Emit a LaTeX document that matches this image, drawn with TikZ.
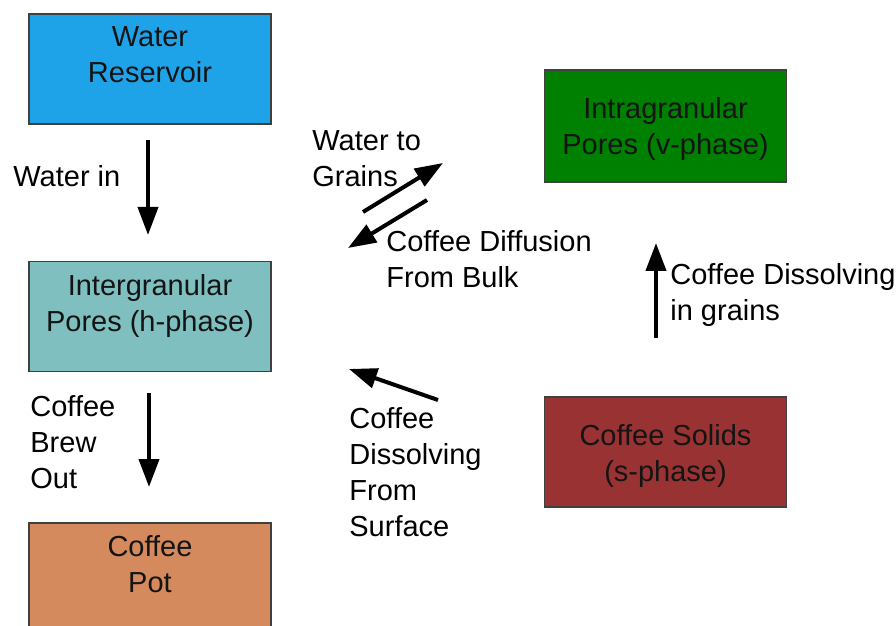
\documentclass[tikz,border=0pt]{standalone}
\usepackage{fontspec}
\setmainfont{Liberation Sans}
\usetikzlibrary{arrows.meta}
\definecolor{reservoirblue}{RGB}{31,163,232}
\definecolor{interteal}{RGB}{128,191,191}
\definecolor{potbrown}{RGB}{212,138,92}
\definecolor{poregreen}{RGB}{0,128,0}
\definecolor{solidred}{RGB}{153,51,51}
\begin{document}
\begin{tikzpicture}[x=0.5pt,y=-0.5pt,
    phase/.style ={rectangle, draw=black!75, line width=0.6pt, inner sep=0pt, minimum width=121pt, minimum height=55pt},
    phasetop/.style ={anchor=north, inner sep=0pt, align=center, text=black!92, font=\fontsize{14.5}{18}\selectfont},
    tag/.style ={anchor=north west, inner sep=0pt, align=left, font=\fontsize{14.5}{18}\selectfont},
    flow/.style ={line width=2pt, -{Triangle[length=14pt,width=10pt]}}]
   \useasboundingbox (0,0) rectangle (896,626);
   % left column
   \node[phase, fill=reservoirblue] (res)  at (150,69)  {};
   \node[phasetop] (restext) at ([yshift=-6.5pt]res.north) {Water\\Reservoir};
   \node[phase, fill=interteal] (inter)  at (150,316.5)  {};
   \node[phasetop] (intertext) at ([yshift=-6.5pt]inter.north) {Intergranular\\Pores (h-phase)};
   \node[phase, fill=potbrown, minimum height=62pt] (pot)  at (150,585)  {};
   \node[phasetop] (pottext) at ([yshift=-6.5pt]pot.north) {Coffee\\Pot};
   % right column
   \node[phase, fill=poregreen, minimum height=56pt] (intra)  at (665.5,126)  {};
   \node[phasetop] (intratext) at ([yshift=-14pt]intra.north) {Intragranular\\Pores (v-phase)};
   \node[phase, fill=solidred] (solid)  at (665.5,452)  {};
   \node[phasetop] (solidtext) at ([yshift=-14pt]solid.north) {Coffee Solids\\(s-phase)};
   % arrow ends
   \coordinate (in0) at (148,140);   \coordinate (in1) at (148,235);
   \coordinate (out0) at (149,393);  \coordinate (out1) at (149,487);
   \coordinate (wg0) at (363,212);   \coordinate (wg1) at (443,163);
   \coordinate (cd0) at (427,200);   \coordinate (cd1) at (348,248);
   \coordinate (cs0) at (438,400);   \coordinate (cs1) at (349,369);
   \coordinate (cg0) at (656,338);   \coordinate (cg1) at (656,243);
   \draw[flow] (in0) -- (in1);
   \draw[flow] (out0) -- (out1);
   \draw[flow] (wg0) -- (wg1);
   \draw[flow] (cd0) -- (cd1);
   \draw[flow] (cs0) -- (cs1);
   \draw[flow] (cg0) -- (cg1);
   % labels
   \node[tag] (inlbl)  at (13,165)  {Water in};
   \node[tag] (outlbl)  at (30,395)  {Coffee\\Brew\\Out};
   \node[tag] (wglbl)  at (312,130)  {Water to\\Grains};
   \node[tag] (cdlbl)  at (386,230)  {Coffee Diffusion\\From Bulk};
   \node[tag] (cslbl)  at (349,407)  {Coffee\\Dissolving\\From\\Surface};
   \node[tag] (cglbl)  at (670,263)  {Coffee Dissolving\\in grains};
 \end{tikzpicture}
\end{document}
